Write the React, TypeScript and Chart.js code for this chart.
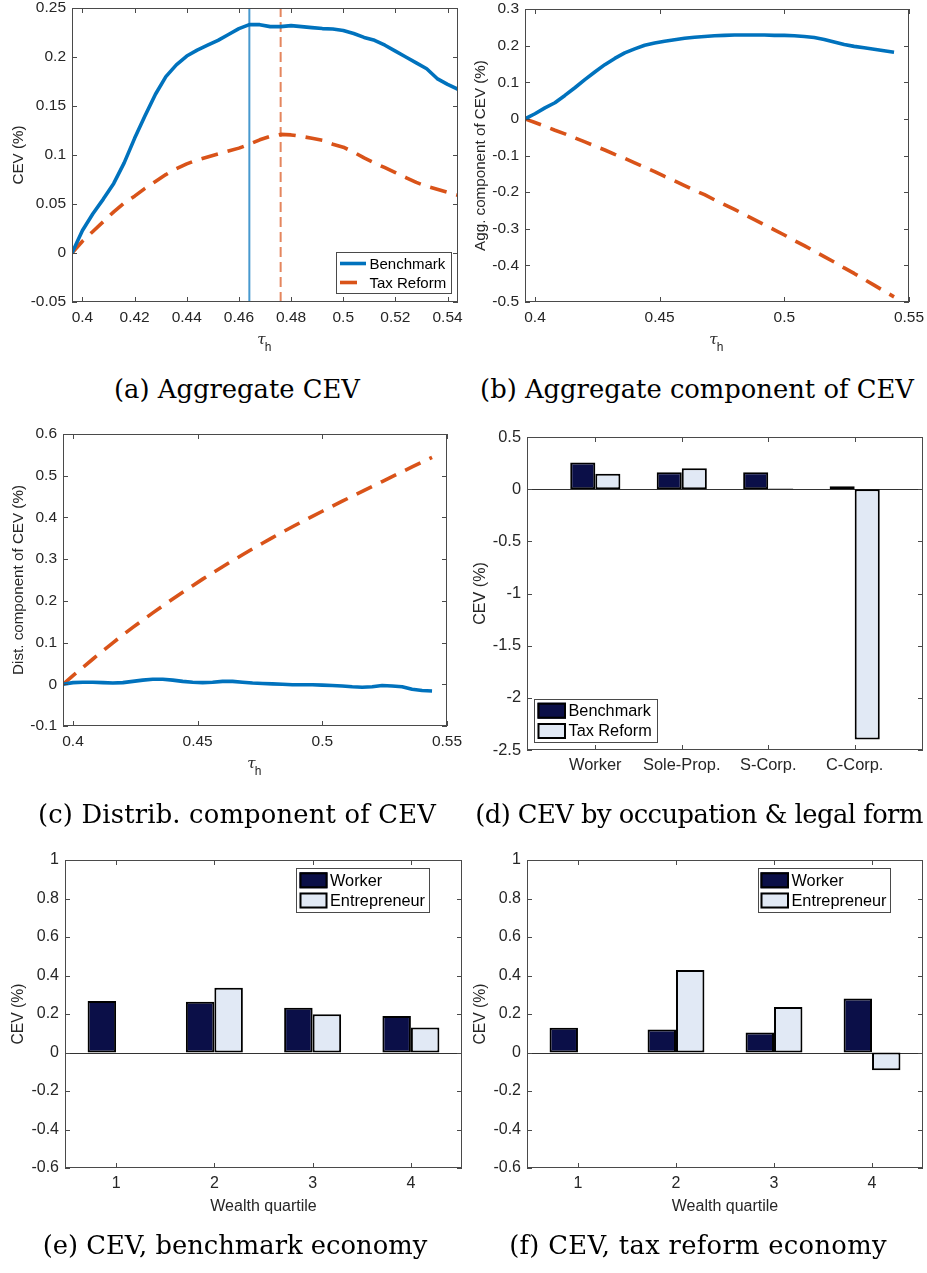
import React, { useEffect, useRef } from "react";
import { Chart, registerables } from "chart.js";
Chart.register(...registerables);

// ---------------- data ----------------
const TAU_H = [0.396, 0.4, 0.404, 0.408, 0.412, 0.416, 0.42, 0.424, 0.428, 0.432, 0.436, 0.44, 0.444, 0.448, 0.452, 0.456, 0.46, 0.464, 0.468, 0.472, 0.476, 0.48, 0.484, 0.488, 0.492, 0.496, 0.5, 0.504, 0.508, 0.512, 0.516, 0.52, 0.524, 0.528, 0.532, 0.536, 0.54, 0.544];

const CEV_BENCH = [0, 0.023, 0.04, 0.055, 0.071, 0.092, 0.117, 0.14, 0.162, 0.18, 0.192, 0.201, 0.207, 0.212, 0.217, 0.223, 0.229, 0.233, 0.233, 0.231, 0.231, 0.232, 0.231, 0.23, 0.229, 0.2285, 0.227, 0.224, 0.22, 0.217, 0.212, 0.206, 0.2, 0.194, 0.188, 0.178, 0.172, 0.167];
const CEV_REFORM = [0, 0.012, 0.022, 0.032, 0.042, 0.051, 0.058, 0.066, 0.073, 0.08, 0.086, 0.091, 0.095, 0.098, 0.101, 0.104, 0.107, 0.111, 0.1155, 0.119, 0.121, 0.1205, 0.119, 0.117, 0.115, 0.111, 0.108, 0.103, 0.097, 0.092, 0.087, 0.082, 0.077, 0.072, 0.068, 0.065, 0.062, 0.059];
const OPT_TAU_BENCH = 0.464;
const OPT_TAU_REFORM = 0.476;

const AGG_BENCH = [0, 0.014, 0.03, 0.044, 0.064, 0.085, 0.107, 0.128, 0.148, 0.165, 0.18, 0.191, 0.201, 0.207, 0.212, 0.216, 0.22, 0.223, 0.225, 0.227, 0.228, 0.229, 0.229, 0.229, 0.229, 0.228, 0.228, 0.227, 0.225, 0.222, 0.217, 0.21, 0.203, 0.198, 0.194, 0.19, 0.186, 0.182];
const AGG_REFORM = [0, -0.01, -0.02, -0.031, -0.041, -0.052, -0.063, -0.074, -0.085, -0.097, -0.108, -0.12, -0.132, -0.144, -0.157, -0.169, -0.182, -0.195, -0.207, -0.221, -0.234, -0.247, -0.261, -0.275, -0.289, -0.303, -0.317, -0.332, -0.346, -0.361, -0.376, -0.391, -0.407, -0.422, -0.438, -0.454, -0.47, -0.486];

const DIST_BENCH = [0, 0.004, 0.005, 0.005, 0.004, 0.003, 0.004, 0.007, 0.01, 0.012, 0.012, 0.01, 0.007, 0.005, 0.004, 0.005, 0.007, 0.007, 0.005, 0.003, 0.002, 0.001, 0, -0.001, -0.001, -0.001, -0.002, -0.003, -0.004, -0.006, -0.007, -0.006, -0.003, -0.004, -0.006, -0.012, -0.015, -0.016];
const DIST_REFORM = [0, 0.0205, 0.0407, 0.0606, 0.0802, 0.0994, 0.1183, 0.1363, 0.1539, 0.1711, 0.1879, 0.2044, 0.2206, 0.2365, 0.2521, 0.2671, 0.2818, 0.2963, 0.3105, 0.3245, 0.3382, 0.3516, 0.3647, 0.3776, 0.3902, 0.4026, 0.4148, 0.4269, 0.4389, 0.4508, 0.4626, 0.4744, 0.4861, 0.4978, 0.5094, 0.521, 0.5326, 0.5441];

const OCC_LABELS = ["Worker", "Sole-Prop.", "S-Corp.", "C-Corp."];
const OCC_POS = [1, 2, 3, 4];
const OCC_BENCH = [0.255, 0.163, 0.163, 0.027];
const OCC_REFORM = [0.147, 0.2, 0.006, -2.4];

const QUARTILES = [1, 2, 3, 4];
const BENCH_WORKER = [0.267, 0.263, 0.232, 0.189];
const BENCH_ENTRE = [null, 0.336, 0.199, 0.13];
const REFORM_WORKER = [0.128, 0.12, 0.104, 0.281];
const REFORM_ENTRE = [null, 0.428, 0.237, -0.092];

const TICKS_A_X = [0.4, 0.42, 0.44, 0.46, 0.48, 0.5, 0.52, 0.54];
const TICKS_A_Y = [-0.05, 0, 0.05, 0.1, 0.15, 0.2, 0.25];
const TICKS_BC_X = [0.4, 0.45, 0.5, 0.55];
const TICKS_B_Y = [-0.5, -0.4, -0.3, -0.2, -0.1, 0, 0.1, 0.2, 0.3];
const TICKS_C_Y = [-0.1, 0, 0.1, 0.2, 0.3, 0.4, 0.5, 0.6];
const TICKS_D_Y = [-2.5, -2, -1.5, -1, -0.5, 0, 0.5];
const TICKS_EF_Y = [-0.6, -0.4, -0.2, 0, 0.2, 0.4, 0.6, 0.8, 1];

const CAPTIONS = [
  "(a) Aggregate CEV",
  "(b) Aggregate component of CEV",
  "(c) Distrib. component of CEV",
  "(d) CEV by occupation & legal form",
  "(e) CEV, benchmark economy",
  "(f) CEV, tax reform economy",
];

// ---------------- styles ----------------
const NAVY = "#0b0f48";
const LIGHT = "#e1e9f5";
const BLUE = "#0072bd";
const ORANGE = "#d95319";
const TXT = "#262626";
const FRAME = "#4a4a4a";
const SANS = '"Liberation Sans", Arial, Helvetica, sans-serif';
const DASH = [17, 10];

type LegendItem = { kind: "line" | "dash" | "box"; color: string; label: string };
type Spec = {
  area: [number, number, number, number];
  col: 0 | 1;
  type: "line" | "bar";
  datasets: any[];
  x: { min: number; max: number; ticks: number[]; labels?: string[] };
  y: { min: number; max: number; ticks: number[] };
  fs: number;
  yTitle: string;
  yTitleX: number;
  xTitle: string;
  zeroLine?: boolean;
  legend?: {
    box: [number, number, number, number];
    sample: [number, number];
    textX: number;
    rows: number[];
    fs: number;
    items: LegendItem[];
  };
};

const fmt = (v: number) => String(parseFloat(v.toFixed(3)));
const xy = (xs: number[], ys: (number | null)[]) => xs.map((x, i) => ({ x, y: ys[i] }));

function lineDs(data: any[], color: string, dashed: boolean, width = 3.6) {
  return {
    data,
    borderColor: color,
    backgroundColor: color,
    borderWidth: width,
    borderDash: dashed ? DASH : [],
    pointRadius: 0,
    tension: 0,
    fill: false,
    borderCapStyle: "butt",
    borderJoinStyle: "round",
  };
}
function barDs(data: any[], color: string) {
  return {
    data,
    backgroundColor: color,
    borderColor: "#000",
    borderWidth: 2,
    borderSkipped: false,
    categoryPercentage: 0.58,
    barPercentage: 1,
  };
}

function PanelChart({ spec }: { spec: Spec }) {
  const ref = useRef<HTMLCanvasElement>(null);
  const [l, t, r, b] = spec.area;
  const x0 = spec.col === 0 ? 0 : 463;
  const W = spec.col === 0 ? 463 : 464;
  const y0 = Math.max(0, t - 14);
  const XH = 72;
  const H = b - y0 + XH;

  useEffect(() => {
    const canvas = ref.current!;
    const px = (v: number) => v - x0;
    const py = (v: number) => v - y0;
    const plugin = {
      id: "matlabAxes",
      beforeDatasetsDraw(chart: any) {
        if (!spec.zeroLine) return;
        const { ctx, chartArea: ca, scales } = chart;
        const y = Math.round(scales.y.getPixelForValue(0)) + 0.5;
        ctx.save();
        ctx.strokeStyle = "#333";
        ctx.lineWidth = 1;
        ctx.beginPath();
        ctx.moveTo(ca.left, y);
        ctx.lineTo(ca.right, y);
        ctx.stroke();
        ctx.restore();
      },
      afterDatasetsDraw(chart: any) {
        const { ctx, chartArea: ca, scales } = chart;
        const TL = 5;
        ctx.save();
        ctx.strokeStyle = FRAME;
        ctx.lineWidth = 1;
        ctx.strokeRect(ca.left + 0.5, ca.top + 0.5, ca.right - ca.left - 1, ca.bottom - ca.top - 1);
        ctx.beginPath();
        for (const v of spec.y.ticks) {
          const p = Math.round(scales.y.getPixelForValue(v)) + 0.5;
          ctx.moveTo(ca.left, p);
          ctx.lineTo(ca.left + TL, p);
          ctx.moveTo(ca.right, p);
          ctx.lineTo(ca.right - TL, p);
        }
        for (const v of spec.x.ticks) {
          const p = Math.round(scales.x.getPixelForValue(v)) + 0.5;
          ctx.moveTo(p, ca.bottom);
          ctx.lineTo(p, ca.bottom - TL);
          ctx.moveTo(p, ca.top);
          ctx.lineTo(p, ca.top + TL);
        }
        ctx.stroke();
        ctx.restore();
      },
      afterDraw(chart: any) {
        const { ctx, chartArea: ca } = chart;
        ctx.save();
        ctx.fillStyle = TXT;
        ctx.font = `${spec.fs - 0.3}px ${SANS}`;
        ctx.textAlign = "center";
        ctx.textBaseline = "middle";
        ctx.translate(px(spec.yTitleX), (ca.top + ca.bottom) / 2);
        ctx.rotate(-Math.PI / 2);
        ctx.fillText(spec.yTitle, 0, 0);
        ctx.restore();

        ctx.save();
        ctx.fillStyle = TXT;
        ctx.textBaseline = "middle";
        ctx.textAlign = "center";
        const cx = (ca.left + ca.right) / 2;
        if (spec.xTitle === "tau") {
          ctx.font = `italic 15px "DejaVu Serif", serif`;
          ctx.fillText("\u03c4", cx - 3.5, ca.bottom + 38);
          ctx.font = `12px ${SANS}`;
          ctx.fillText("h", cx + 3, ca.bottom + 46);
        } else if (spec.xTitle) {
          ctx.font = `${spec.fs}px ${SANS}`;
          ctx.fillText(spec.xTitle, cx, ca.bottom + 39);
        }
        ctx.restore();

        const lg = spec.legend;
        if (lg) {
          ctx.save();
          const [bl, bt, br, bb] = lg.box;
          ctx.fillStyle = "#fff";
          ctx.fillRect(px(bl), py(bt), br - bl, bb - bt);
          ctx.strokeStyle = FRAME;
          ctx.lineWidth = 1;
          ctx.strokeRect(Math.round(px(bl)) + 0.5, Math.round(py(bt)) + 0.5, Math.round(br - bl), Math.round(bb - bt));
          lg.items.forEach((it, i) => {
            const ry = py(lg.rows[i]);
            const sx0 = px(lg.sample[0]);
            const sx1 = px(lg.sample[1]);
            if (it.kind === "box") {
              ctx.fillStyle = it.color;
              ctx.fillRect(sx0, ry - 8, sx1 - sx0, 16);
              ctx.strokeStyle = "#000";
              ctx.lineWidth = 2;
              ctx.setLineDash([]);
              ctx.strokeRect(sx0 + 1, ry - 7, sx1 - sx0 - 2, 14);
            } else {
              ctx.strokeStyle = it.color;
              ctx.lineWidth = 3.6;
              ctx.lineCap = "butt";
              ctx.setLineDash(it.kind === "dash" ? DASH : []);
              ctx.beginPath();
              ctx.moveTo(sx0, ry);
              ctx.lineTo(sx1, ry);
              ctx.stroke();
              ctx.setLineDash([]);
            }
            ctx.fillStyle = "#000";
            ctx.font = `${lg.fs}px ${SANS}`;
            ctx.textAlign = "left";
            ctx.textBaseline = "middle";
            ctx.fillText(it.label, px(lg.textX), ry + 1);
          });
          ctx.restore();
        }
      },
    };

    const tickFont = { family: SANS, size: spec.fs };
    const chart = new Chart(canvas, {
      type: spec.type,
      data: { datasets: spec.datasets },
      options: {
        responsive: false,
        animation: false,
        events: [],
        layout: { padding: { left: 0, top: t - y0, right: x0 + W - r, bottom: 0 } },
        plugins: { legend: { display: false }, tooltip: { enabled: false } },
        scales: {
          x: {
            type: "linear",
            min: spec.x.min,
            max: spec.x.max,
            offset: false,
            grid: { display: false, drawTicks: false, offset: false },
            border: { display: false },
            ticks: {
              font: tickFont,
              color: TXT,
              padding: 6,
              maxRotation: 0,
              autoSkip: false,
              callback: (v: any, i: number) => (spec.x.labels ? spec.x.labels[i] : fmt(Number(v))),
            },
            afterBuildTicks: (s: any) => {
              s.ticks = spec.x.ticks.map((v) => ({ value: v }));
            },
            afterFit: (s: any) => {
              s.height = XH;
              s.paddingLeft = 0;
              s.paddingRight = 0;
            },
          },
          y: {
            type: "linear",
            min: spec.y.min,
            max: spec.y.max,
            grid: { display: false, drawTicks: false },
            border: { display: false },
            ticks: {
              font: tickFont,
              color: TXT,
              padding: 6,
              autoSkip: false,
              callback: (v: any) => fmt(Number(v)),
            },
            afterBuildTicks: (s: any) => {
              s.ticks = spec.y.ticks.map((v) => ({ value: v }));
            },
            afterFit: (s: any) => {
              s.width = l - x0;
              s.paddingTop = 0;
              s.paddingBottom = 0;
            },
          },
        },
      } as any,
      plugins: [plugin as any],
    });
    return () => chart.destroy();
  }, []);

  return (
    <canvas
      ref={ref}
      width={W}
      height={H}
      style={{ position: "absolute", left: x0, top: y0, width: W, height: H }}
    />
  );
}

const SPECS: Spec[] = [
  {
    area: [72, 8, 458, 302],
    col: 0,
    type: "line",
    datasets: [
      lineDs(xy(TAU_H, CEV_BENCH), BLUE, false),
      lineDs(xy(TAU_H, CEV_REFORM), ORANGE, true),
      lineDs([{ x: OPT_TAU_BENCH, y: -0.05 }, { x: OPT_TAU_BENCH, y: 0.25 }], "rgba(0,114,189,0.72)", false, 2),
      {
        ...lineDs([{ x: OPT_TAU_REFORM, y: -0.05 }, { x: OPT_TAU_REFORM, y: 0.25 }], "rgba(217,83,25,0.7)", true, 2),
        borderDash: [10, 5],
      },
    ],
    x: { min: 0.396, max: 0.544, ticks: TICKS_A_X },
    y: { min: -0.05, max: 0.25, ticks: TICKS_A_Y },
    fs: 15.5,
    yTitle: "CEV (%)",
    yTitleX: 18.5,
    xTitle: "tau",
    legend: {
      box: [336, 252, 451, 293],
      sample: [340, 366],
      textX: 369.5,
      rows: [263.5, 282.5],
      fs: 15,
      items: [
        { kind: "line", color: BLUE, label: "Benchmark" },
        { kind: "dash", color: ORANGE, label: "Tax Reform" },
      ],
    },
  },
  {
    area: [525, 9, 909, 302],
    col: 1,
    type: "line",
    datasets: [lineDs(xy(TAU_H, AGG_BENCH), BLUE, false), lineDs(xy(TAU_H, AGG_REFORM), ORANGE, true)],
    x: { min: 0.396, max: 0.55, ticks: TICKS_BC_X },
    y: { min: -0.5, max: 0.3, ticks: TICKS_B_Y },
    fs: 15.5,
    yTitle: "Agg. component of CEV (%)",
    yTitleX: 480.7,
    xTitle: "tau",
  },
  {
    area: [63, 434, 447, 726],
    col: 0,
    type: "line",
    datasets: [lineDs(xy(TAU_H, DIST_BENCH), BLUE, false), lineDs(xy(TAU_H, DIST_REFORM), ORANGE, true)],
    x: { min: 0.396, max: 0.55, ticks: TICKS_BC_X },
    y: { min: -0.1, max: 0.6, ticks: TICKS_C_Y },
    fs: 15.5,
    yTitle: "Dist. component of CEV (%)",
    yTitleX: 18.5,
    xTitle: "tau",
  },
  {
    area: [527, 437, 923, 750],
    col: 1,
    type: "bar",
    datasets: [barDs(xy(OCC_POS, OCC_BENCH), NAVY), barDs(xy(OCC_POS, OCC_REFORM), LIGHT)],
    x: { min: 0.21, max: 4.79, ticks: OCC_POS, labels: OCC_LABELS },
    y: { min: -2.5, max: 0.5, ticks: TICKS_D_Y },
    fs: 16.4,
    yTitle: "CEV (%)",
    yTitleX: 480.7,
    xTitle: "",
    zeroLine: true,
    legend: {
      box: [534, 699, 657, 742],
      sample: [537.5, 566],
      textX: 568.5,
      rows: [710.7, 731],
      fs: 16.3,
      items: [
        { kind: "box", color: NAVY, label: "Benchmark" },
        { kind: "box", color: LIGHT, label: "Tax Reform" },
      ],
    },
  },
  {
    area: [65, 860, 462, 1168],
    col: 0,
    type: "bar",
    datasets: [barDs(xy(QUARTILES, BENCH_WORKER), NAVY), barDs(xy(QUARTILES, BENCH_ENTRE), LIGHT)],
    x: { min: 0.48, max: 4.52, ticks: QUARTILES },
    y: { min: -0.6, max: 1, ticks: TICKS_EF_Y },
    fs: 16,
    yTitle: "CEV (%)",
    yTitleX: 19,
    xTitle: "Wealth quartile",
    zeroLine: true,
    legend: {
      box: [296, 868, 429, 912],
      sample: [299.5, 327.5],
      textX: 330,
      rows: [880.3, 900.5],
      fs: 16.3,
      items: [
        { kind: "box", color: NAVY, label: "Worker" },
        { kind: "box", color: LIGHT, label: "Entrepreneur" },
      ],
    },
  },
  {
    area: [527, 860, 923, 1168],
    col: 1,
    type: "bar",
    datasets: [barDs(xy(QUARTILES, REFORM_WORKER), NAVY), barDs(xy(QUARTILES, REFORM_ENTRE), LIGHT)],
    x: { min: 0.48, max: 4.52, ticks: QUARTILES },
    y: { min: -0.6, max: 1, ticks: TICKS_EF_Y },
    fs: 16,
    yTitle: "CEV (%)",
    yTitleX: 480.8,
    xTitle: "Wealth quartile",
    zeroLine: true,
    legend: {
      box: [758, 868, 890, 912],
      sample: [760.5, 789],
      textX: 791.5,
      rows: [880.3, 900.5],
      fs: 16.3,
      items: [
        { kind: "box", color: NAVY, label: "Worker" },
        { kind: "box", color: LIGHT, label: "Entrepreneur" },
      ],
    },
  },
];

const CAPTION_POS: [number, number][] = [
  [237, 389],
  [697, 389],
  [237, 814],
  [699, 814],
  [235, 1245],
  [698, 1245],
];
const CAPTION_SPACING = [0, 0, 0.18, -0.55, 0, 0.3];

export default function App() {
  return (
    <div
      style={{
        position: "absolute",
        left: 0,
        top: 0,
        width: 927,
        height: 1273,
        background: "#fff",
        overflow: "hidden",
      }}
    >
      {SPECS.map((s, i) => (
        <PanelChart key={i} spec={s} />
      ))}
      {CAPTIONS.map((c, i) => (
        <div
          key={"c" + i}
          style={{
            position: "absolute",
            left: CAPTION_POS[i][0] - 300,
            top: CAPTION_POS[i][1] - 15,
            width: 600,
            height: 30,
            lineHeight: "30px",
            textAlign: "center",
            fontFamily: '"DejaVu Serif", "Liberation Serif", serif',
            fontSize: 25.8,
            letterSpacing: CAPTION_SPACING[i],
            color: "#000",
            whiteSpace: "nowrap",
          }}
        >
          {c}
        </div>
      ))}
    </div>
  );
}
